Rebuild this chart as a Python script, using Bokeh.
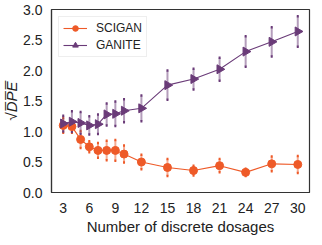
from bokeh.plotting import figure
from bokeh.models import ColumnDataSource, Whisker, TeeHead, Legend, LegendItem, FixedTicker, NumeralTickFormatter, Range1d
from bokeh.embed import file_html
from bokeh.resources import INLINE

dosages = [3, 4, 5, 6, 7, 8, 9, 10, 12, 15, 18, 21, 24, 27, 30]
scigan_mean = [1.10, 1.08, 0.87, 0.75, 0.69, 0.69, 0.69, 0.63, 0.50, 0.41, 0.36, 0.44, 0.33, 0.47, 0.46]
scigan_err = [0.12, 0.10, 0.14, 0.09, 0.12, 0.16, 0.17, 0.14, 0.12, 0.14, 0.08, 0.11, 0.06, 0.12, 0.14]
ganite_mean = [1.13, 1.16, 1.14, 1.10, 1.12, 1.28, 1.29, 1.34, 1.38, 1.76, 1.86, 2.02, 2.31, 2.47, 2.64]
ganite_err = [0.13, 0.17, 0.18, 0.15, 0.16, 0.18, 0.20, 0.19, 0.21, 0.24, 0.17, 0.19, 0.25, 0.24, 0.25]
x_ticks = [3, 6, 9, 12, 15, 18, 21, 24, 27, 30]
y_ticks = [0.0, 0.5, 1.0, 1.5, 2.0, 2.5, 3.0]

ORANGE = "#EE5A28"
PURPLE = "#6A3B78"
FONT = "Liberation Sans"

p = figure(width=314, height=237, output_backend="svg", toolbar_location=None,
           x_range=Range1d(1.65, 31.35), y_range=Range1d(0, 3.0),
           min_border_left=36, min_border_right=5, min_border_top=9, min_border_bottom=35)

p.grid.visible = False
p.outline_line_color = "#333333"
p.outline_line_width = 1.2
p.background_fill_color = "white"
p.border_fill_color = "white"

for ax in (p.xaxis[0], p.yaxis[0]):
    ax.axis_line_color = "#333333"
    ax.axis_line_width = 1.2
    ax.major_tick_line_color = None
    ax.minor_tick_line_color = None
    ax.major_label_text_font = FONT
    ax.major_label_text_font_size = "14px"
    ax.major_label_text_color = "#222222"
    ax.axis_label_text_font = FONT
    ax.axis_label_text_font_size = "15px"
    ax.axis_label_text_color = "#222222"
    ax.axis_label_text_font_style = "normal"

p.xaxis.ticker = FixedTicker(ticks=x_ticks)
p.yaxis.ticker = FixedTicker(ticks=y_ticks)
p.yaxis.formatter = NumeralTickFormatter(format="0.0")
p.xaxis.axis_label = "Number of discrete dosages"
p.yaxis.axis_label = "\u221aD\u0305P\u0305E\u0305"
p.yaxis.axis_label_text_font_style = "italic"
p.xaxis.major_label_standoff = 4
p.yaxis.major_label_standoff = 3
p.xaxis.axis_label_standoff = 2
p.yaxis.axis_label_standoff = 0

src_s = ColumnDataSource(dict(x=dosages, y=scigan_mean,
                              lo=[m - e for m, e in zip(scigan_mean, scigan_err)],
                              hi=[m + e for m, e in zip(scigan_mean, scigan_err)]))
src_g = ColumnDataSource(dict(x=dosages, y=ganite_mean,
                              lo=[m - e for m, e in zip(ganite_mean, ganite_err)],
                              hi=[m + e for m, e in zip(ganite_mean, ganite_err)]))

for src, col in ((src_s, ORANGE), (src_g, PURPLE)):
    w = Whisker(source=src, base="x", lower="lo", upper="hi", dimension="height",
                line_color=col, line_alpha=0.5, line_width=2,
                lower_head=TeeHead(size=2, line_color=col, line_width=2.5),
                upper_head=TeeHead(size=2, line_color=col, line_width=2.5))
    p.add_layout(w)

ls = p.line("x", "y", source=src_s, line_color=ORANGE, line_width=1.1)
ms = p.scatter("x", "y", source=src_s, marker="circle", size=8, fill_color=ORANGE, line_color=ORANGE)
lg = p.line("x", "y", source=src_g, line_color=PURPLE, line_width=1.1)
mg = p.scatter("x", "y", source=src_g, marker="triangle", angle=-1.5708, size=9,
               fill_color=PURPLE, line_color=PURPLE)

legend = Legend(items=[LegendItem(label="SCIGAN", renderers=[ls, ms]),
                       LegendItem(label="GANITE", renderers=[lg, mg])],
                location="top_left")
legend.label_text_font = FONT
legend.label_text_font_size = "12px"
legend.label_text_color = "#222222"
legend.border_line_color = "#dddddd"
legend.border_line_width = 1
legend.glyph_width = 24
legend.glyph_height = 14
legend.label_standoff = 9
legend.spacing = 3
legend.padding = 4
legend.margin = 7
legend.background_fill_alpha = 1.0
p.add_layout(legend)

open("out.html", "w").write(file_html(p, INLINE))
